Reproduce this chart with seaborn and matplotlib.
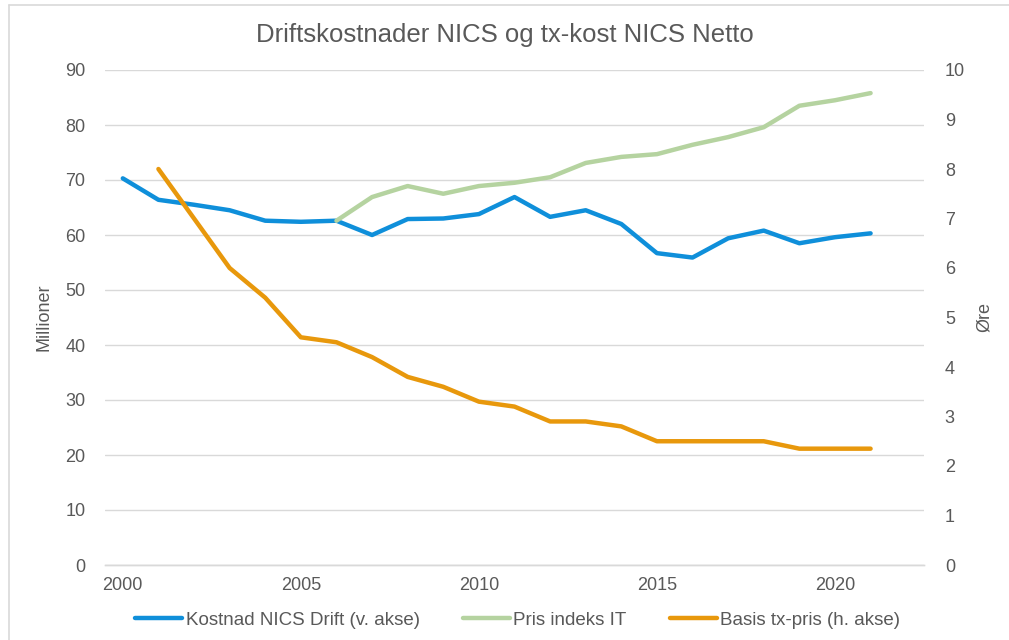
import pandas as pd
import matplotlib
matplotlib.use("Agg")
import matplotlib.pyplot as plt
import seaborn as sns
from matplotlib.lines import Line2D

# Data

years_drift = list(range(2000, 2022))
kostnad_drift = [70.3, 66.4, 65.5, 64.5, 62.6, 62.4, 62.6, 60.0, 62.9, 63.0, 63.8,
                 66.9, 63.3, 64.5, 62.0, 56.7, 55.9, 59.4, 60.8, 58.5, 59.6, 60.3]

years_pris = list(range(2006, 2022))
pris_indeks = [62.6, 66.9, 68.9, 67.5, 68.9, 69.5, 70.5, 73.1, 74.2, 74.7, 76.4,
               77.8, 79.6, 83.5, 84.5, 85.8]

years_basis = list(range(2001, 2022))
basis_tx = [8.0, 7.0, 6.0, 5.4, 4.6, 4.5, 4.2, 3.8, 3.6, 3.3, 3.2, 2.9, 2.9, 2.8,
            2.5, 2.5, 2.5, 2.5, 2.35, 2.35, 2.35]

labels = ["Kostnad NICS Drift (v. akse)", "Pris indeks IT", "Basis tx-pris (h. akse)"]
colors = ["#0F8FDA", "#B5D3A0", "#E8980C"]

grey_text = "#595959"
grey_line = "#D9D9D9"

# Plot

sns.set_style("white")
plt.rcParams["font.family"] = ["Liberation Sans", "DejaVu Sans"]

fig = plt.figure(figsize=(10.09, 6.40), dpi=100)
ax = fig.add_axes([105 / 1009, 1 - 565 / 640, (924 - 105) / 1009, (565 - 70) / 640])
ax2 = ax.twinx()

df_drift = pd.DataFrame({"year": years_drift, "value": kostnad_drift})
df_pris = pd.DataFrame({"year": years_pris, "value": pris_indeks})
df_basis = pd.DataFrame({"year": years_basis, "value": basis_tx})

sns.lineplot(data=df_drift, x="year", y="value", ax=ax, color=colors[0], lw=3.2)
sns.lineplot(data=df_pris, x="year", y="value", ax=ax, color=colors[1], lw=3.2)
sns.lineplot(data=df_basis, x="year", y="value", ax=ax2, color=colors[2], lw=3.2)

ax.set_xlim(1999.5, 2022.5)
ax.set_ylim(0, 90)
ax2.set_ylim(0, 10)
ax.set_yticks(range(0, 91, 10))
ax2.set_yticks(range(0, 11))
ax.set_xticks(range(2000, 2021, 5))
ax.set_xticks([1999.5, 2004.5, 2009.5, 2014.5, 2019.5], minor=True)

ax.grid(axis="y", color=grey_line, lw=1)
ax.set_axisbelow(True)
for a in (ax, ax2):
    for s in ["top", "right", "left"]:
        a.spines[s].set_visible(False)
    a.spines["bottom"].set_color(grey_line)
    a.spines["bottom"].set_linewidth(1)

ax.tick_params(axis="x", which="major", length=0, labelsize=13, labelcolor=grey_text, pad=9)
ax.tick_params(axis="x", which="minor", length=5, color=grey_line, width=1)
ax.tick_params(axis="y", length=0, labelsize=13, labelcolor=grey_text, pad=14)
ax2.tick_params(axis="y", length=0, labelsize=13, labelcolor=grey_text, pad=15)

ax.set_xlabel("")
ax.set_ylabel("Millioner", fontsize=13, color=grey_text, labelpad=9)
ax2.set_ylabel("Øre", fontsize=13, color=grey_text, labelpad=8)

fig.text(0.5, 1 - 35 / 640, "Driftskostnader NICS og tx-kost NICS Netto",
         ha="center", va="center", fontsize=18.5, color=grey_text)

handles = [Line2D([], [], color=c, lw=3.2) for c in colors]
fig.legend(handles, labels, loc="center", bbox_to_anchor=(0.513, 1 - 620 / 640),
           ncol=3, frameon=False, fontsize=13.5, handlelength=2.5, handletextpad=0.2,
           columnspacing=2.3, labelcolor=grey_text)

# chart frame (top and left edge visible)
fig.add_artist(Line2D([9 / 1009, 9 / 1009], [0, 1 - 5 / 640], color=grey_line, lw=1.2))
fig.add_artist(Line2D([9 / 1009, 1], [1 - 5 / 640, 1 - 5 / 640], color=grey_line, lw=1.2))

fig.savefig("out.png", dpi=100)
